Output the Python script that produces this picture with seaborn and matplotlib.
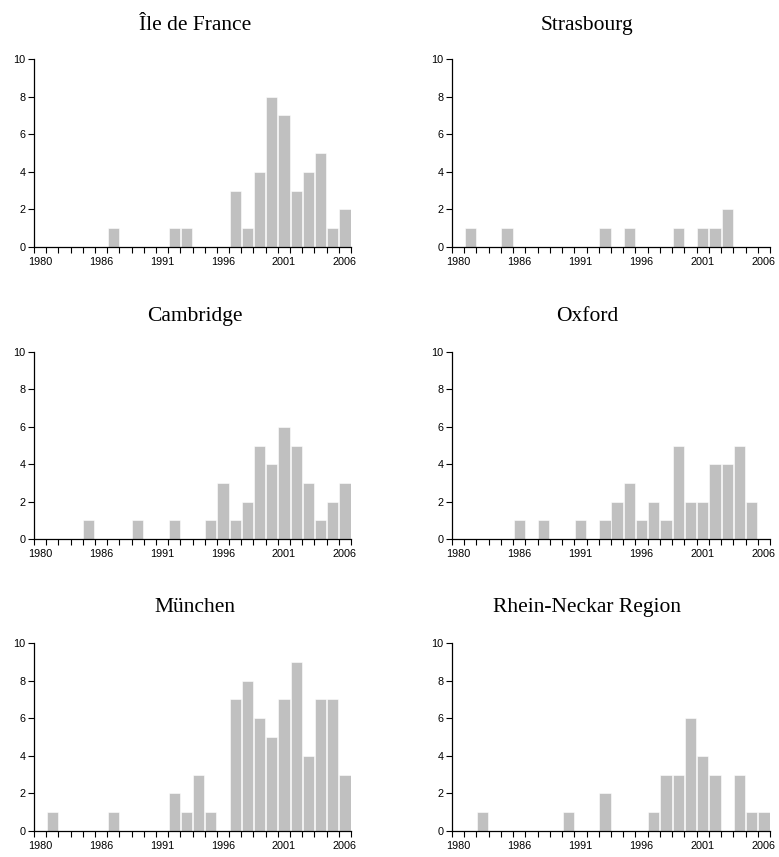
import numpy as np
import pandas as pd
import seaborn as sns
import matplotlib.pyplot as plt

# category years (1981 is not a category in the source chart)
years = [1980] + list(range(1982, 2007))

ile_de_france = [0, 0, 0, 0, 0, 0, 1, 0, 0, 0, 0, 1, 1, 0, 0, 0, 3, 1, 4, 8, 7, 3, 4, 5, 1, 2]
strasbourg = [0, 1, 0, 0, 1, 0, 0, 0, 0, 0, 0, 0, 1, 0, 1, 0, 0, 0, 1, 0, 1, 1, 2, 0, 0, 0]
cambridge = [0, 0, 0, 0, 1, 0, 0, 0, 1, 0, 0, 1, 0, 0, 1, 3, 1, 2, 5, 4, 6, 5, 3, 1, 2, 3]
oxford = [0, 0, 0, 0, 0, 1, 0, 1, 0, 0, 1, 0, 1, 2, 3, 1, 2, 1, 5, 2, 2, 4, 4, 5, 2, 0]
muenchen = [0, 1, 0, 0, 0, 0, 1, 0, 0, 0, 0, 2, 1, 3, 1, 0, 7, 8, 6, 5, 7, 9, 4, 7, 7, 3]
rhein_neckar = [0, 0, 1, 0, 0, 0, 0, 0, 0, 1, 0, 0, 2, 0, 0, 0, 1, 3, 3, 6, 4, 3, 0, 3, 1, 1]

titles = ['Île de France', 'Strasbourg', 'Cambridge', 'Oxford', 'München', 'Rhein-Neckar Region']
series = [ile_de_france, strasbourg, cambridge, oxford, muenchen, rhein_neckar]
label_every = 5

sns.set_style("ticks")
plt.rcParams['font.family'] = ['Liberation Sans', 'DejaVu Sans']
plt.rcParams['text.color'] = 'black'
plt.rcParams['xtick.color'] = 'black'
plt.rcParams['ytick.color'] = 'black'

W, H = 779, 857
fig = plt.figure(figsize=(W / 100, H / 100), dpi=100)

# axes boxes in pixels: (left, top, right, bottom)
col_x = [(34, 351), (452, 770)]
row_y = [(59, 247), (352, 539), (643, 831)]
title_x = [195, 587]
title_y = [30, 321, 612]

for i, (name, vals) in enumerate(zip(titles, series)):
    r, c = divmod(i, 2)
    x0, x1 = col_x[c]
    y0, y1 = row_y[r]
    ax = fig.add_axes([x0 / W, 1 - y1 / H, (x1 - x0) / W, (y1 - y0) / H])
    df = pd.DataFrame({'year': years, 'count': vals})
    sns.barplot(data=df, x='year', y='count', order=years, color='#C0C0C0',
                saturation=1, width=0.92, edgecolor='white', linewidth=0.4,
                errorbar=None, ax=ax)
    ax.set_xlim(-0.5, len(years) - 0.5)
    ax.set_ylim(0, 10)
    ax.set_yticks(range(0, 11, 2))
    ax.set_xticks(range(0, len(years), label_every))
    ax.set_xticklabels([years[k] for k in range(0, len(years), label_every)])
    ax.set_xticks(np.arange(-0.5, len(years)), minor=True)
    ax.tick_params(axis='x', which='major', length=0, pad=7, labelsize=7.8)
    ax.tick_params(axis='x', which='minor', length=4, width=0.8, direction='out')
    ax.tick_params(axis='y', length=4, width=0.8, labelsize=7.8, pad=2)
    ax.set_xlabel('')
    ax.set_ylabel('')
    sns.despine(ax=ax)
    for s in ['left', 'bottom']:
        ax.spines[s].set_linewidth(0.9)
        ax.spines[s].set_color('black')
    fig.text(title_x[c] / W, 1 - title_y[r] / H, name, ha='center', va='baseline',
             fontsize=15.5, color='black', family=['Liberation Serif', 'DejaVu Serif'])

fig.savefig('out.png', dpi=100)
